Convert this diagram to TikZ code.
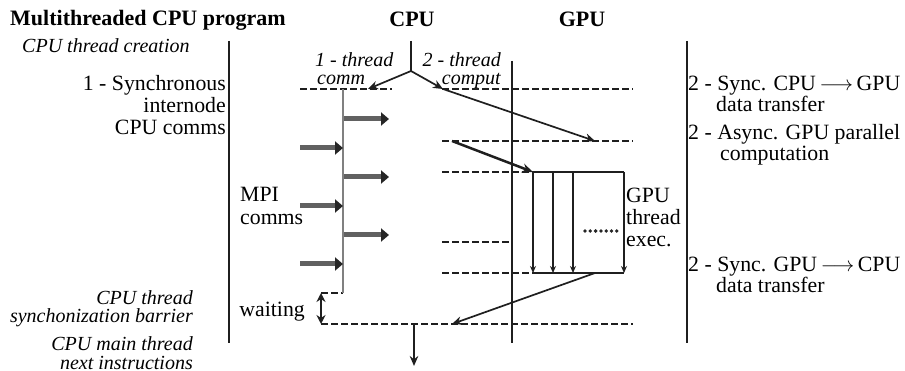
\documentclass[tikz,border=0pt]{standalone}
\usepackage{fontspec}
\setmainfont{Liberation Serif}
\usetikzlibrary{arrows.meta}
\begin{document}
\begin{tikzpicture}[x=1pt,y=-1pt,
  reg/.style={inner sep=0pt,font=\fontsize{21.8}{22}\selectfont},
  ital/.style={inner sep=0pt,font=\fontsize{20}{19}\selectfont\itshape},
  hdr/.style={inner sep=0pt,font=\fontsize{22}{22}\selectfont\bfseries},
  axis/.style={line width=2pt,draw=black!88},
  level/.style={line width=1.8pt,draw=black!88,dash pattern=on 6.5pt off 3.5pt},
  flow/.style={line width=1.7pt,draw=black!88,-{Stealth[length=10pt,width=8.5pt]}},
  thickflow/.style={line width=2.5pt,draw=black!88,-{Stealth[length=11pt,width=9pt]}},
  gflow/.style={line width=1.6pt,draw=black!88,-{Stealth[length=7pt,width=6pt]}},
  mpi/.style={line width=5pt,draw=black!62,-{Triangle[length=8pt,width=13pt,color=black!85]}},
  commline/.style={line width=2.3pt,draw=black!50},
  dot/.style={circle,fill=black!85,inner sep=0pt,minimum size=3.8pt}
]
\useasboundingbox (0,0) rectangle (905,371);

% ---------- texts ----------
\node[hdr,anchor=base west] (title) at (10,26) {Multithreaded CPU program};
\node[hdr,anchor=base] (hcpu) at (412,27) {CPU};
\node[hdr,anchor=base] (hgpu) at (582,27) {GPU};
\node[ital,anchor=base west] (tcreate) at (22,53) {CPU thread creation};
\node[reg,anchor=base east,align=right] (sync) at (226,135) {1 - Synchronous\\internode\\CPU comms};
\node[ital,anchor=base east,align=right,font=\fontsize{20}{18}\selectfont\itshape] (barrier) at (193,323) {CPU thread\\synchonization barrier};
\node[ital,anchor=base east,align=right,font=\fontsize{20}{20}\selectfont\itshape] (nexti) at (193,370) {CPU main thread\\next instructions};
\node[ital,anchor=base west,align=left,font=\fontsize{20}{18}\selectfont\itshape] (tcomm) at (315,85) {1 - thread\\\hspace*{2pt}comm};
\node[ital,anchor=base east,align=right,font=\fontsize{20}{18}\selectfont\itshape] (tcomp) at (501,85) {2 - thread\\comput};
\node[reg,anchor=base west,align=left,font=\fontsize{21.8}{23}\selectfont] (mpitxt) at (240,225) {MPI\\comms};
\node[reg,anchor=base east] (waiting) at (305,317) {waiting};
\node[reg,anchor=base west,align=left] (gthread) at (626,247) {GPU\\thread\\exec.};
\node[reg,anchor=base west,align=left,font=\fontsize{21.8}{21}\selectfont] (r1) at (688,112) {2 - Sync. CPU\,$\longrightarrow$\,GPU\\\hspace*{28pt}data transfer};
\node[reg,anchor=base west,align=left,font=\fontsize{21.8}{21}\selectfont] (r2) at (688,161) {2 - Async. GPU parallel\\\hspace*{32pt}computation};
\node[reg,anchor=base west,align=left,font=\fontsize{21.8}{21}\selectfont] (r3) at (688,293) {2 - Sync. GPU\,$\longrightarrow$\,CPU\\\hspace*{28pt}data transfer};

% ---------- key points ----------
\coordinate (Ltop) at (229,41);   \coordinate (Lbot) at (229,343);
\coordinate (Rtop) at (687,41);   \coordinate (Rbot) at (687,343);
\coordinate (Gtop) at (512,61);   \coordinate (Gbot) at (512,343);
\coordinate (cpuTop) at (411,41); \coordinate (fork) at (411,71);
\coordinate (commTip) at (368,89); \coordinate (compTip) at (443,89);
\coordinate (c1a) at (300,89);  \coordinate (c1b) at (392,89);
\coordinate (h1a) at (442,89);  \coordinate (h1b) at (633,89);
\coordinate (h2a) at (442,141); \coordinate (h2b) at (633,141);
\coordinate (h3a) at (442,172); \coordinate (boxTL) at (533,172);
\coordinate (h4a) at (442,242); \coordinate (h4b) at (512,242);
\coordinate (h5a) at (442,273); \coordinate (boxBL) at (533,273);
\coordinate (boxTR) at (624,172); \coordinate (boxBR) at (624,273);
\coordinate (b2t) at (553,172); \coordinate (b2b) at (553,273);
\coordinate (b3t) at (573,172); \coordinate (b3b) at (573,273);
\coordinate (h6a) at (321,324); \coordinate (h6b) at (633,324);
\coordinate (waitTop) at (321,293);
\coordinate (commTop) at (343,89); \coordinate (commBot) at (343,293);
\coordinate (toGpu) at (595,141);
\coordinate (kStart) at (452,141);
\coordinate (backStart) at (595,273); \coordinate (backTip) at (452,324);
\coordinate (mainOut) at (414,324); \coordinate (mainEnd) at (414,366);

% ---------- frame lines ----------
\draw[axis] (Ltop) -- (Lbot);
\draw[axis] (Rtop) -- (Rbot);
\draw[axis] (Gtop) -- (Gbot);

% ---------- fork ----------
\draw[axis] (cpuTop) -- (fork);
\draw[flow] (fork) -- (commTip);
\draw[flow] (fork) -- (compTip);

% ---------- dashed levels ----------
\draw[level] (c1a) -- (c1b);
\draw[level] (h1a) -- (h1b);
\draw[level] (h2a) -- (h2b);
\draw[level] (h3a) -- (boxTL);
\draw[level] (h4a) -- (h4b);
\draw[level] (h5a) -- (boxBL);
\draw[level] (h6a) -- (h6b);
\draw[level] (waitTop) -- (commBot);

% ---------- comm thread ----------
\draw[commline] (commTop) -- (commBot);
\foreach \y/\n in {119/a,177/b,235/c} {
  \coordinate (mo\n) at (344,\y); \coordinate (me\n) at (389,\y);
  \draw[mpi] (mo\n) -- (me\n);
}
\foreach \y/\n in {148/a,206/b,264/c} {
  \coordinate (mi\n) at (300,\y); \coordinate (mj\n) at (343,\y);
  \draw[mpi] (mi\n) -- (mj\n);
}

% ---------- transfers ----------
\draw[flow] (compTip) -- (toGpu);
\draw[thickflow] (kStart) -- (boxTL);
\draw[flow] (backStart) -- (backTip);

% ---------- GPU threads ----------
\draw[axis,line width=1.7pt] (boxTL) -- (boxTR);
\draw[axis,line width=1.7pt] (boxBL) -- (boxBR);
\draw[gflow] (boxTL) -- (boxBL);
\draw[gflow] (b2t) -- (b2b);
\draw[gflow] (b3t) -- (b3b);
\draw[gflow] (boxTR) -- (boxBR);
\foreach \i in {0,...,6} { \node[dot] (d\i) at (585+5.3*\i,231) {}; }

% ---------- waiting + continuation ----------
\draw[line width=1.7pt,draw=black!88,{Stealth[length=9pt,width=9pt]}-{Stealth[length=9pt,width=9pt]}] (waitTop) -- (h6a);
\draw[flow] (mainOut) -- (mainEnd);
\end{tikzpicture}
\end{document}
